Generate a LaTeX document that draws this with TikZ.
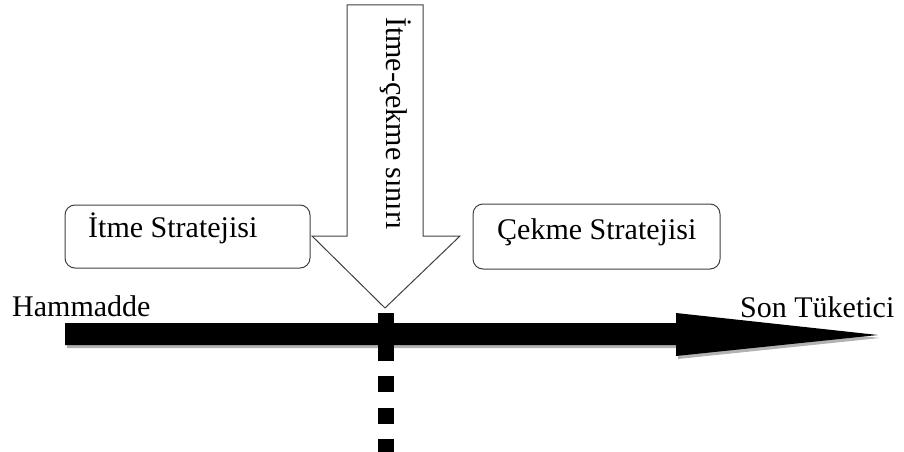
\documentclass[tikz,border=0pt]{standalone}
\usepackage{fontspec}
\setmainfont{Liberation Serif}
\begin{document}
\begin{tikzpicture}[x=1pt,y=-1pt,
  every node/.style={font=\fontsize{30}{36}\selectfont, inner sep=0pt},
  stratbox/.style={draw=black!75, line width=1pt, rounded corners=10pt, fill=white},
  blockarrow/.style={draw=black!75, line width=1pt, fill=white, line join=miter},
  boundary/.style={line width=16pt, dash pattern=on 16pt off 15.5pt}]
\useasboundingbox (0,0) rectangle (904,452);

% supply chain flow: from raw material to end consumer
\coordinate (flowstart) at (65,334);
\coordinate (headbase) at (676,334);
\coordinate (flowend) at (878,335);
\begin{scope}[shift={(2,3)}]
  \fill[black!30] (65,323) -- (676,323) -- (676,313) -- (878,335) -- (676,356) -- (676,345) -- (65,345) -- cycle;
\end{scope}
\fill[black] (flowstart) ++(0,-11) -- ++(611,0) -- ++(0,-10) -- (flowend)
  -- (676,356) -- ++(0,-11) -- ++(-611,0) -- cycle;

% dashed push-pull boundary under the arrow tip
\coordinate (limtop) at (386,313);
\coordinate (limbot) at (386,452);
\draw[boundary] (limtop) -- (limbot);

% strategy boxes
\node[stratbox, minimum width=245pt, minimum height=63pt] (pushbox) at (187.5,236.5) {};
\node[anchor=base west] (pushtext) at (88,237) {İtme Stratejisi};
\node[stratbox, minimum width=247pt, minimum height=65pt] (pullbox) at (596.5,236.5) {};
\node[anchor=base west] (pulltext) at (497,239) {Çekme Stratejisi};

% downward block arrow marking the boundary
\draw[blockarrow] (347,5) -- (423,5) -- (423,236) -- (460,236) -- (385,308)
  -- (312,236) -- (347,236) -- cycle;
\node[rotate=-90, anchor=base west] (limit) at (386,17) {İtme-çekme sınırı};

% end labels
\node[anchor=base west] (raw) at (12,316) {Hammadde};
\node[anchor=base west] (consumer) at (740,317) {Son Tüketici};
\end{tikzpicture}
\end{document}
